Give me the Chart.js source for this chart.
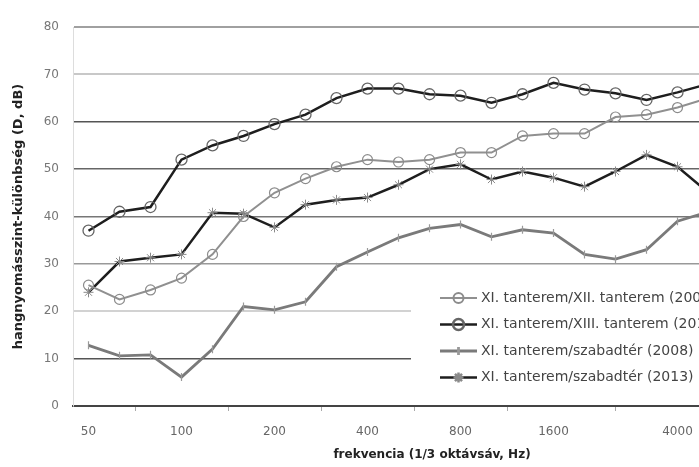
<!DOCTYPE html>
<html>
<head>
<meta charset="utf-8">
<script src="https://cdn.jsdelivr.net/npm/chart.js@4/dist/chart.umd.min.js"></script>
<style>
  html, body { margin: 0; padding: 0; background: #fff; overflow: hidden; }
  #wrap { position: relative; width: 760px; height: 467px; }
</style>
</head>
<body>
<div id="wrap"><canvas id="c" width="760" height="467"></canvas></div>
<script>
// 1/3-octave band centre frequencies (Hz)
const bands = ['50','63','80','100','125','160','200','250','315','400','500','630','800','1000','1250','1600','2000','2500','3150','4000','5000'];
// bands that get a printed tick label
const labelledBands = ['50','100','200','400','800','1600','4000'];
const yTicks = [0, 10, 20, 30, 40, 50, 60, 70, 80];

const seriesNames = [
  'XI. tanterem/XII. tanterem (2008)',
  'XI. tanterem/XIII. tanterem (2013)',
  'XI. tanterem/szabadtér (2008)',
  'XI. tanterem/szabadtér (2013)'
];

// level difference D, dB
const roomXII   = [25.5, 22.5, 24.5, 27, 32, 40, 45, 48, 50.5, 52, 51.5, 52, 53.5, 53.5, 57, 57.5, 57.5, 61, 61.5, 63, 65];
const roomXIII  = [37, 41, 42, 52, 55, 57, 59.5, 61.5, 65, 67, 67, 65.8, 65.5, 64, 65.8, 68.2, 66.8, 66, 64.6, 66.2, 68];
const open2008  = [12.8, 10.6, 10.8, 6.1, 12, 21, 20.3, 22, 29.4, 32.5, 35.5, 37.5, 38.3, 35.7, 37.2, 36.5, 32, 31, 33, 39, 41];
const open2013  = [24, 30.5, 31.3, 32, 40.8, 40.6, 37.7, 42.5, 43.5, 44, 46.7, 50, 51, 47.8, 49.5, 48.2, 46.3, 49.5, 53, 50.5, 45];

// horizontal grid shades per tick value
const gridShade = { 0: '#444', 10: '#555', 20: '#d2d2d2', 30: '#999', 40: '#777', 50: '#666', 60: '#555', 70: '#c8c8c8', 80: '#a0a0a0' };

const FONT = "'DejaVu Sans', Verdana, sans-serif";

// legend drawn inside the plot on a white panel
const insetLegend = {
  id: 'insetLegend',
  afterDatasetsDraw(chart, args, o) {
    const ctx = chart.ctx;
    ctx.save();
    ctx.fillStyle = '#fff';
    ctx.fillRect(o.boxLeft, o.boxTop, chart.width - o.boxLeft, o.boxHeight);
    ctx.font = o.font;
    ctx.textBaseline = 'middle';
    chart.data.datasets.forEach((ds, i) => {
      const cy = o.firstRow + i * o.rowGap;
      ctx.strokeStyle = ds.borderColor;
      ctx.lineWidth = ds.borderWidth;
      ctx.beginPath();
      ctx.moveTo(o.sampleX, cy);
      ctx.lineTo(o.sampleX + o.sampleLen, cy);
      ctx.stroke();
      ctx.fillStyle = ds.pointBackgroundColor;
      ctx.strokeStyle = ds.pointBorderColor;
      Chart.helpers.drawPoint(ctx, {
        pointStyle: ds.pointStyle,
        rotation: ds.pointRotation || 0,
        radius: ds.pointRadius,
        borderWidth: ds.pointBorderWidth
      }, o.sampleX + o.sampleLen / 2, cy);
      ctx.fillStyle = o.color;
      ctx.fillText(ds.label, o.sampleX + o.sampleLen + 4, cy);
    });
    ctx.restore();
  }
};

// x-axis caption
const xCaption = {
  id: 'xCaption',
  afterDraw(chart, args, o) {
    const ctx = chart.ctx;
    ctx.save();
    ctx.font = o.font;
    ctx.fillStyle = o.color;
    ctx.textAlign = 'center';
    ctx.textBaseline = 'middle';
    ctx.fillText(o.text, o.x, o.y);
    ctx.restore();
  }
};

const data = {
  labels: bands,
  datasets: [
    {
      label: seriesNames[0], data: roomXII,
      borderColor: '#909090', borderWidth: 2,
      pointStyle: 'circle', pointRadius: 5, pointBorderWidth: 1.2,
      pointBorderColor: '#8c8c8c', pointBackgroundColor: 'rgba(255,255,255,0)'
    },
    {
      label: seriesNames[1], data: roomXIII,
      borderColor: '#1e1e1e', borderWidth: 2.5,
      pointStyle: 'circle', pointRadius: 5.5, pointBorderWidth: 1.3,
      pointBorderColor: '#666', pointBackgroundColor: 'rgba(255,255,255,0)'
    },
    {
      label: seriesNames[2], data: open2008,
      borderColor: '#7a7a7a', borderWidth: 2.8,
      pointStyle: 'line', pointRotation: 90, pointRadius: 4, pointBorderWidth: 1.2,
      pointBorderColor: '#999', pointBackgroundColor: '#999'
    },
    {
      label: seriesNames[3], data: open2013,
      borderColor: '#1e1e1e', borderWidth: 2.5,
      pointStyle: 'star', pointRadius: 5, pointBorderWidth: 1,
      pointBorderColor: '#8a8a8a', pointBackgroundColor: '#8a8a8a'
    }
  ]
};

new Chart(document.getElementById('c'), {
  type: 'line',
  data,
  plugins: [insetLegend, xCaption],
  options: {
    responsive: false,
    animation: false,
    events: [],
    layout: { padding: { top: 27, right: 36, bottom: 0, left: 0 } },
    elements: { line: { tension: 0 } },
    plugins: {
      legend: { display: false },
      tooltip: { enabled: false },
      insetLegend: {
        boxLeft: 411, boxTop: 272, boxHeight: 126,
        firstRow: 298, rowGap: 26.5, sampleX: 440, sampleLen: 37,
        font: "14px " + FONT, color: '#444'
      },
      xCaption: {
        text: 'frekvencia (1/3 oktávsáv, Hz)',
        x: 432, y: 455, font: "bold 12px " + FONT, color: '#222'
      }
    },
    scales: {
      x: {
        type: 'category',
        offset: true,
        grid: { drawOnChartArea: false, drawTicks: true, tickLength: 5, color: '#aaa', offset: true },
        border: { display: true, color: '#444', width: 2 },
        ticks: {
          autoSkip: false, maxRotation: 0, padding: 14,
          color: '#666', font: { family: FONT, size: 12 },
          callback(value) {
            const b = bands[value];
            return labelledBands.includes(b) ? b : null;
          }
        },
        afterFit(scale) { scale.height = 61; }
      },
      y: {
        min: 0, max: 80,
        afterBuildTicks(scale) { scale.ticks = yTicks.map(v => ({ value: v })); },
        grid: {
          drawTicks: false,
          color: c => gridShade[c.tick.value] || '#888',
          lineWidth: c => (c.tick.value === 20 || c.tick.value === 70 || c.tick.value === 80) ? 2 : 1.6
        },
        border: { display: true, color: '#ddd', width: 1 },
        ticks: { padding: 14, color: '#777', font: { family: FONT, size: 12 } },
        title: {
          display: true,
          text: 'hangnyomásszint-különbség (D, dB)',
          color: '#222',
          font: { family: FONT, size: 13, weight: 'bold' },
          padding: { top: 11, bottom: 0 }
        },
        afterFit(scale) { scale.width = 73; }
      }
    }
  }
});
</script>
</body>
</html>
